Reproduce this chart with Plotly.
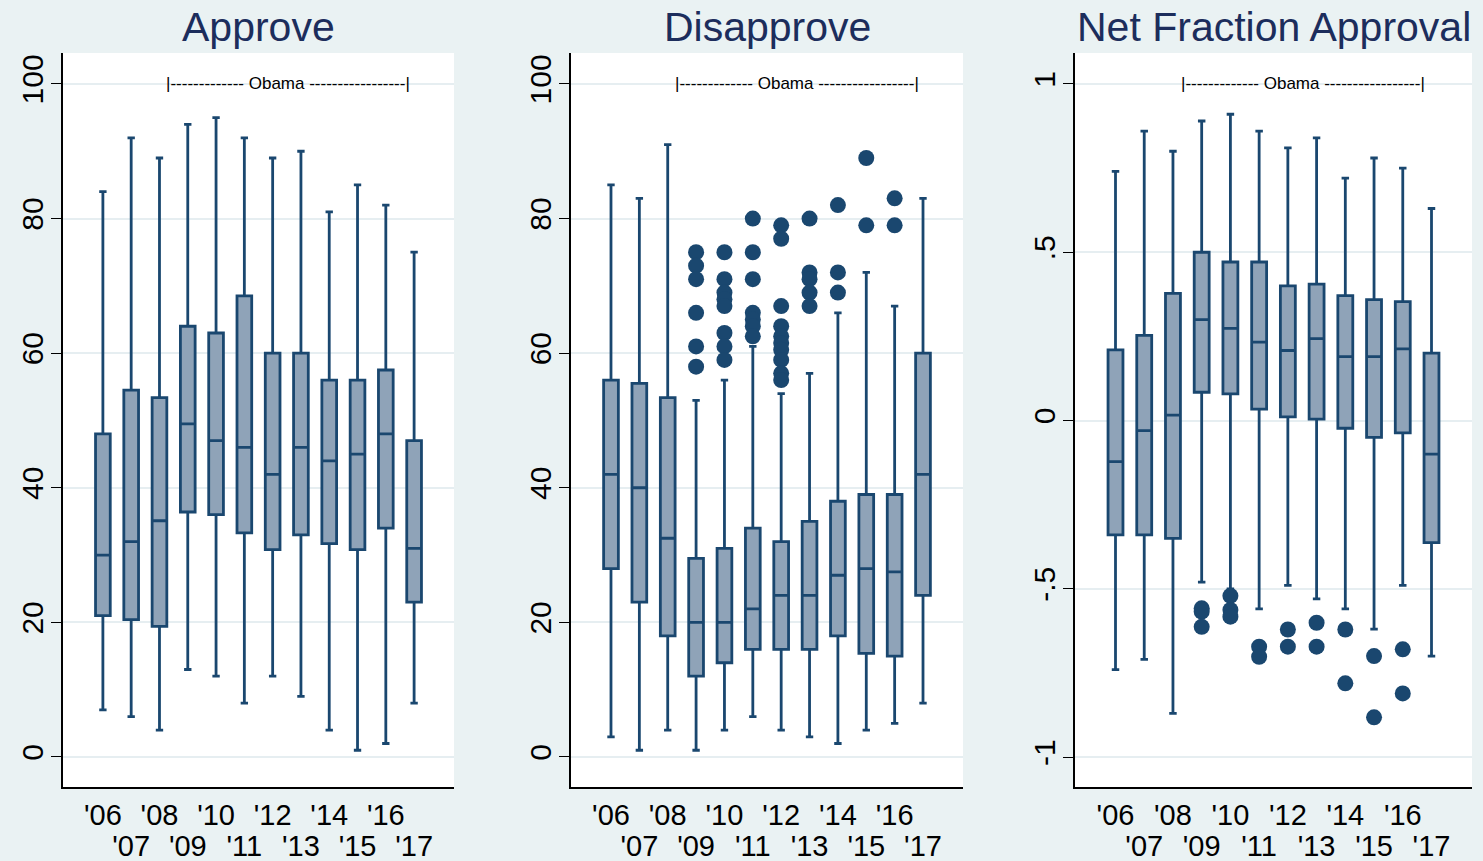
import plotly.graph_objects as go

# ---------------- data ----------------
years = ["'06", "'07", "'08", "'09", "'10", "'11", "'12", "'13", "'14", "'15", "'16", "'17"]

approve_lower = [7, 6, 4, 13, 12, 8, 12, 9, 4, 1, 2, 8]
approve_q1 = [21, 20.4, 19.4, 36.4, 36, 33.3, 30.8, 33, 31.7, 30.8, 34, 23]
approve_median = [30, 32, 35.1, 49.5, 47, 46, 42, 46, 44, 45, 48, 31]
approve_q3 = [48, 54.5, 53.4, 64, 63, 68.5, 60, 60, 56, 56, 57.5, 47]
approve_upper = [84, 92, 89, 94, 95, 92, 89, 90, 81, 85, 82, 75]

dis_lower = [3, 1, 4, 1, 4, 6, 4, 3, 2, 4, 5, 8]
dis_q1 = [28, 23, 18, 12, 14, 16, 16, 16, 18, 15.4, 15, 24]
dis_median = [42, 40, 32.5, 20, 20, 22, 24, 24, 27, 28, 27.5, 42]
dis_q3 = [56, 55.5, 53.4, 29.5, 31, 34, 32, 35, 38, 39, 39, 60]
dis_upper = [85, 83, 91, 53, 56, 61, 54, 57, 66, 72, 67, 83]
dis_out_year = (["'09"] * 6 + ["'10"] * 8 + ["'11"] * 7 + ["'12"] * 10 +
                ["'13"] * 5 + ["'14"] * 3 + ["'15"] * 2 + ["'16"] * 2)
dis_out_value = [75, 73, 71, 66, 61, 58,
                 75, 71, 69, 68, 67, 63, 61, 59,
                 80, 75, 71, 66, 65, 64, 62.5,
                 79, 77, 67, 64, 62.5, 61.5, 60.5, 59, 57, 56,
                 80, 72, 71, 69, 67,
                 82, 72, 69,
                 89, 79,
                 83, 79]

net_lower = [-0.74, -0.71, -0.87, -0.48, -0.50, -0.56, -0.49, -0.53, -0.56, -0.62, -0.49, -0.70]
net_q1 = [-0.34, -0.34, -0.35, 0.084, 0.079, 0.034, 0.011, 0.004, -0.023, -0.05, -0.037, -0.363]
net_median = [-0.122, -0.03, 0.016, 0.30, 0.274, 0.233, 0.208, 0.243, 0.19, 0.19, 0.213, -0.10]
net_q3 = [0.21, 0.253, 0.378, 0.50, 0.471, 0.471, 0.40, 0.405, 0.371, 0.359, 0.353, 0.20]
net_upper = [0.74, 0.86, 0.80, 0.89, 0.91, 0.86, 0.81, 0.84, 0.72, 0.78, 0.75, 0.63]
net_out_year = (["'09"] * 3 + ["'10"] * 3 + ["'11"] * 2 + ["'12"] * 2 + ["'13"] * 2 +
                ["'14"] * 2 + ["'15"] * 2 + ["'16"] * 2)
net_out_value = [-0.558, -0.568, -0.613,
                 -0.521, -0.563, -0.583,
                 -0.672, -0.702,
                 -0.621, -0.672,
                 -0.601, -0.672,
                 -0.621, -0.781,
                 -0.700, -0.882,
                 -0.680, -0.811]

titles = ["Approve", "Disapprove", "Net Fraction Approval"]
pct_ticks = [0, 20, 40, 60, 80, 100]
net_ticks = [-1, -0.5, 0, 0.5, 1]
net_tick_labels = ["-1", "-.5", "0", ".5", "1"]
obama_label = "|------------- Obama -----------------|"

# ---------------- styling ----------------
W, H = 1483, 861
BG = "#eaf2f3"
GRID = "#e6eef1"
NAVY = "#1a476f"
FILL = "#8fa3b8"
TITLE = "#1c2d5c"
FONT = "Arial, Liberation Sans, sans-serif"

panels_px = [(63, 454), (571, 963), (1075, 1472)]
top_px, bot_px = 53, 787

idx = list(range(len(years)))
pos = {y: i for i, y in enumerate(years)}

fig = go.Figure()

stats = [
    (approve_lower, approve_q1, approve_median, approve_q3, approve_upper, [], []),
    (dis_lower, dis_q1, dis_median, dis_q3, dis_upper, dis_out_year, dis_out_value),
    (net_lower, net_q1, net_median, net_q3, net_upper, net_out_year, net_out_value),
]

for p, (lo, q1, med, q3, up, oy, ov) in enumerate(stats):
    xa = "x" if p == 0 else f"x{p+1}"
    ya = "y" if p == 0 else f"y{p+1}"
    fig.add_trace(go.Box(
        x=idx, lowerfence=lo, q1=q1, median=med, q3=q3, upperfence=up,
        xaxis=xa, yaxis=ya, width=0.52, whiskerwidth=0.5,
        fillcolor=FILL, line=dict(color=NAVY, width=2.8),
        boxpoints=False, showlegend=False, hoverinfo="skip"))
    if oy:
        fig.add_trace(go.Scatter(
            x=[pos[y] for y in oy], y=ov, mode="markers",
            marker=dict(color=NAVY, size=16, line=dict(width=0)),
            xaxis=xa, yaxis=ya, showlegend=False, hoverinfo="skip"))
    # dummy trace for the second row of x tick labels
    fig.add_trace(go.Scatter(x=[None], y=[None], xaxis=f"x{p+4}", yaxis=ya,
                             showlegend=False, hoverinfo="skip"))

layout = dict(
    width=W, height=H,
    paper_bgcolor=BG, plot_bgcolor="white",
    margin=dict(l=0, r=0, t=0, b=0),
    font=dict(family=FONT, color="black"),
    showlegend=False,
)

ydom = [(H - bot_px) / H, (H - top_px) / H]
xrange = [-1.41, 12.41]
even_idx = idx[0::2]
odd_idx = idx[1::2]
for p, (x0, x1) in enumerate(panels_px):
    sfx = "" if p == 0 else str(p + 1)
    xname = "x" + sfx
    layout["xaxis" + sfx] = dict(
        domain=[x0 / W, x1 / W], anchor="y" + sfx, range=xrange,
        showgrid=False, zeroline=False, showline=True, linecolor="black", linewidth=1.5,
        ticks="", tickvals=even_idx, ticktext=[years[i] for i in even_idx],
        tickfont=dict(size=29, color="black"), ticklabelstandoff=1)
    layout[f"xaxis{p+4}"] = dict(
        domain=[x0 / W, x1 / W], anchor="y" + sfx, overlaying=xname, matches=xname,
        side="bottom", range=xrange, showgrid=False, zeroline=False, showline=False,
        ticks="", tickvals=odd_idx, ticktext=[years[i] for i in odd_idx],
        tickfont=dict(size=29, color="black"), ticklabelstandoff=39)
    if p < 2:
        yr = [-4.46, 104.6]
        tv, tt = pct_ticks, [str(v) for v in pct_ticks]
    else:
        yr = [-1.089, 1.092]
        tv, tt = net_ticks, net_tick_labels
    layout["yaxis" + sfx] = dict(
        domain=ydom, anchor=xname, range=yr,
        showgrid=True, gridcolor=GRID, gridwidth=2, zeroline=False,
        showline=True, linecolor="black", linewidth=1.5,
        ticks="outside", ticklen=10, tickwidth=1, tickcolor="black",
        tickvals=tv, ticktext=tt, tickangle=-90, ticklabelstandoff=-4,
        tickfont=dict(size=30, color="black"))

fig.update_layout(**layout)

ann = []
for p, (x0, x1) in enumerate(panels_px):
    ann.append(dict(text=titles[p], xref="paper", yref="paper",
                    x=(x0 + x1) / 2 / W, y=1 - 27 / H, xanchor="center", yanchor="middle",
                    showarrow=False, font=dict(size=41, color=TITLE, family=FONT)))
    sfx = "" if p == 0 else str(p + 1)
    ann.append(dict(text=obama_label, xref="x" + sfx, yref="y" + sfx,
                    x=6.54, y=(100 if p < 2 else 1), xanchor="center", yanchor="middle",
                    showarrow=False, font=dict(size=17, color="black", family=FONT)))
fig.update_layout(annotations=ann)

fig.write_html("out.html", config={"displayModeBar": False},
               post_script="document.body.style.margin='0';document.body.style.overflow='hidden';")
